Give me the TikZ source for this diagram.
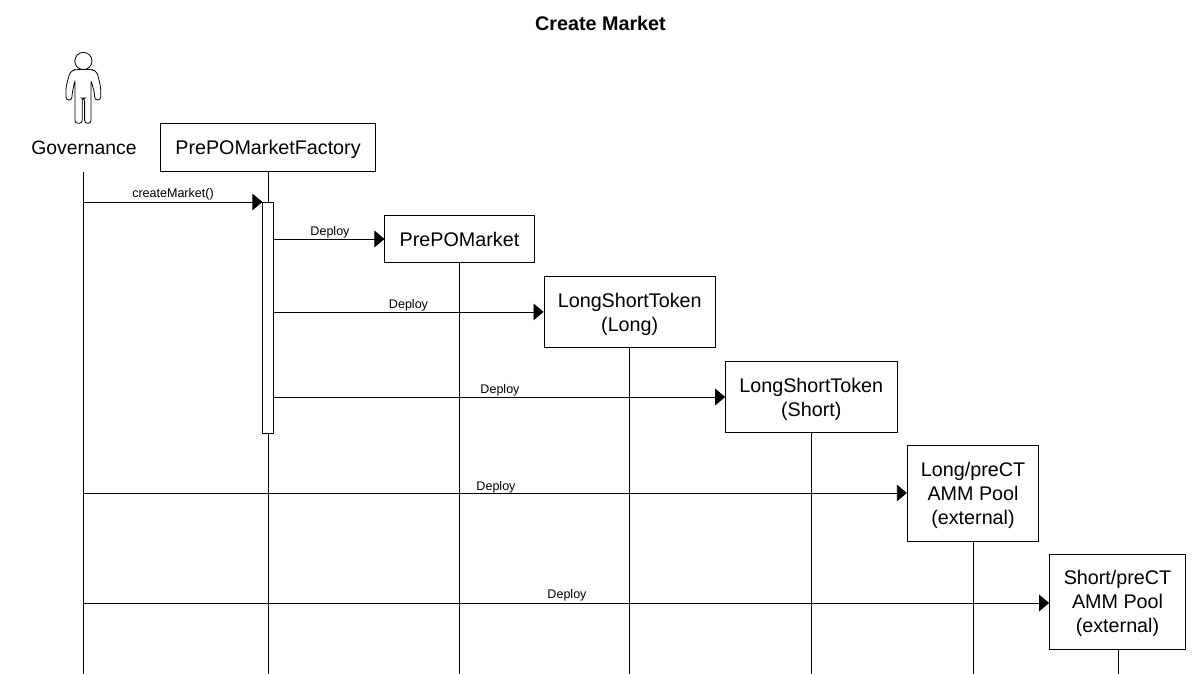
\documentclass[tikz,border=0pt]{standalone}
\usepackage{fontspec}
\setmainfont{Liberation Sans}
\usetikzlibrary{arrows.meta}
\tikzset{
  pbox/.style={draw=black,fill=white,line width=0.6pt,align=center,font=\fontsize{14.8}{18}\selectfont,inner sep=0pt,text depth=0pt},
  life/.style={draw=black,line width=0.6pt},
  msg/.style={draw=black,line width=0.6pt,-{Triangle[length=7.5pt,width=12.5pt]}},
  lbl/.style={font=\fontsize{9.4}{11}\selectfont,inner sep=0pt},
}
\begin{document}
\begin{tikzpicture}[x=0.75pt,y=-0.75pt]
\useasboundingbox (0,0) rectangle (1200,674);
\fill[white] (0,0) rectangle (1200,674);
\node[font=\bfseries\fontsize{14.8}{18}\selectfont,inner sep=0pt] (title) at (600.5,23) {Create Market};
% actor
\draw[line width=0.6pt,rounded corners=2.2pt] (82.2,98) -- (82.2,123.3) -- (75,123.3) -- (75,80)
  -- (72,94) -- (72,100) -- (66,100) -- (66,87) -- (70,72) -- (75,69.5) -- (92,69.5) -- (97,72)
  -- (100.7,87) -- (100.7,100) -- (94.7,100) -- (94.7,94) -- (91,80) -- (91,123.3) -- (84.6,123.3) -- (84.6,98) -- cycle;
\node[draw=black,fill=white,line width=0.6pt,circle,minimum size=12.9pt,inner sep=0pt] (head) at (83.4,61) {};
\node[font=\fontsize{14.5}{18}\selectfont,inner sep=0pt] (gov) at (84,148) {Governance};
\coordinate (govtop) at (83,172);
\coordinate (govbot) at (83,674);
% boxes
\node[pbox,minimum width=161.3pt,minimum height=36pt] (fac) at (268,147.5) {PrePOMarketFactory};
\node[pbox,minimum width=112pt,minimum height=35.8pt] (mkt) at (459.5,239) {PrePOMarket};
\node[pbox,minimum width=128.6pt,minimum height=53.6pt] (lng) at (629.7,311.9) {LongShortToken\\(Long)};
\node[pbox,minimum width=128.6pt,minimum height=53.6pt] (sht) at (811.3,397) {LongShortToken\\(Short)};
\node[pbox,minimum width=98.6pt,minimum height=71.6pt] (lp) at (973,493.5) {Long/preCT\\AMM Pool\\(external)};
\node[pbox,minimum width=102pt,minimum height=71.6pt] (sp) at (1117.5,601.8) {Short/preCT\\AMM Pool\\(external)};
% lifelines
\coordinate (facbot) at (268,674);
\coordinate (mktbot) at (459,674);
\coordinate (lngbot) at (629,674);
\coordinate (shtbot) at (811,674);
\coordinate (lpbot) at (973,674);
\coordinate (spbot) at (1118,674);
\draw[life] (govtop) -- (govbot);
\draw[life] (facbot |- fac.south) -- (facbot);
\draw[life] (mktbot |- mkt.south) -- (mktbot);
\draw[life] (lngbot |- lng.south) -- (lngbot);
\draw[life] (shtbot |- sht.south) -- (shtbot);
\draw[life] (lpbot |- lp.south) -- (lpbot);
\draw[life] (spbot |- sp.south) -- (spbot);
% activation
\node[draw=black,fill=white,line width=0.6pt,minimum width=7.8pt,minimum height=173.2pt,inner sep=0pt,anchor=north] (act) at (268,202) {};
% messages
\coordinate (g1) at (83,202);
\coordinate (g2) at (83,493);
\coordinate (g3) at (83,603);
\draw[msg] (g1) -- (act.north west);
\draw[msg] (act.east |- mkt.west) -- (mkt.west);
\draw[msg] (act.east |- lng.west) -- (lng.west);
\draw[msg] (act.east |- sht.west) -- (sht.west);
\draw[msg] (g2) -- (g2 -| lp.west);
\draw[msg] (g3) -- (g3 -| sp.west);
% labels
\node[lbl] (l1) at (173,194) {createMarket()};
\node[lbl] (l2) at (330,232) {Deploy};
\node[lbl] (l3) at (408.5,305) {Deploy};
\node[lbl] (l4) at (500,390) {Deploy};
\node[lbl] (l5) at (496,487) {Deploy};
\node[lbl] (l6) at (567,595) {Deploy};
\end{tikzpicture}
\end{document}
